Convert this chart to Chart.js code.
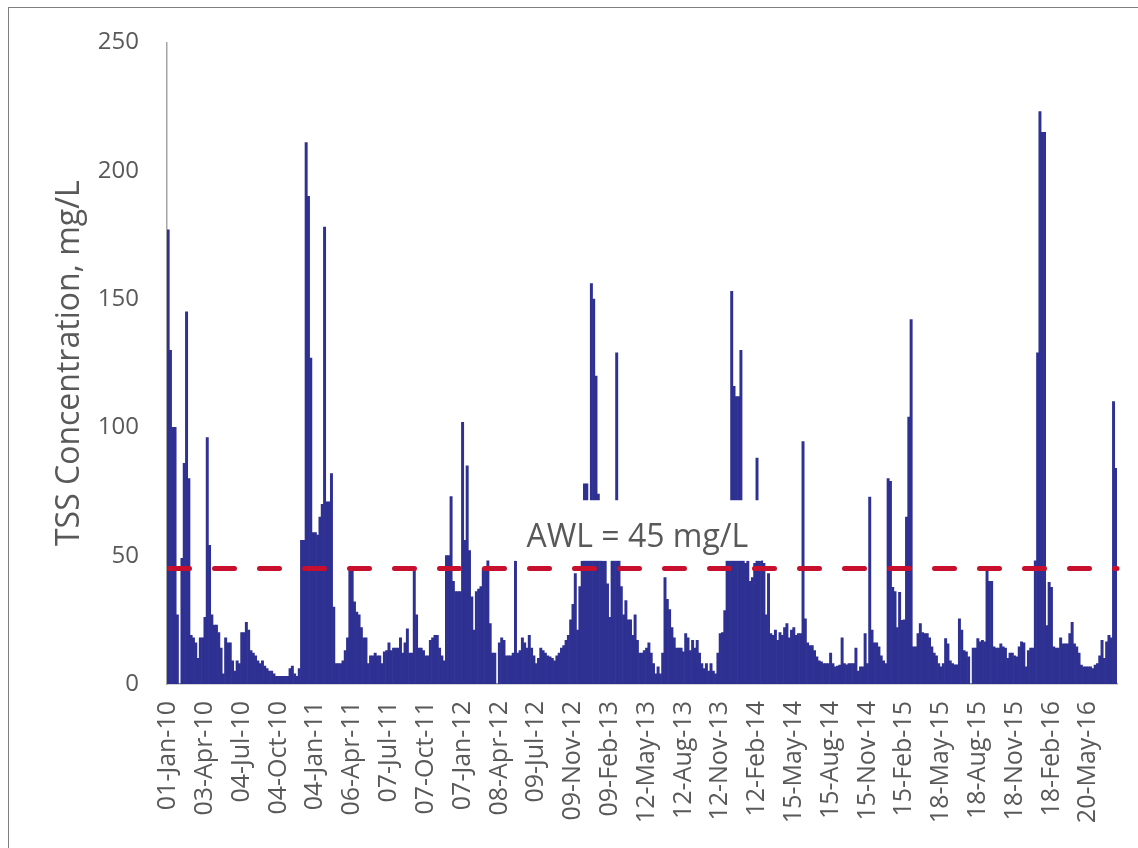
<!DOCTYPE html>
<html><head><meta charset="utf-8">
<script src="https://cdn.jsdelivr.net/npm/chart.js@4.4.1/dist/chart.umd.min.js"></script>
<style>
html,body{margin:0;padding:0;background:#fff;}
#wrap{position:relative;width:1138px;height:848px;overflow:hidden;}
#frame{position:absolute;left:8px;top:7px;width:1200px;height:900px;border-left:1.5px solid #7f7f7f;border-top:1.5px solid #7f7f7f;}
canvas{position:absolute;left:0;top:0;}
</style></head><body>
<div id="wrap"><div id="frame"></div><canvas id="c" width="1138" height="848"></canvas></div>
<script>
// Tick labels shown on the x axis (one every 16 bars)
const tickLabels = ['01-Jan-10','03-Apr-10','04-Jul-10','04-Oct-10','04-Jan-11','06-Apr-11','07-Jul-11','07-Oct-11','07-Jan-12','08-Apr-12','09-Jul-12','09-Nov-12','09-Feb-13','12-May-13','12-Aug-13','12-Nov-13','12-Feb-14','15-May-14','15-Aug-14','15-Nov-14','15-Feb-15','18-May-15','18-Aug-15','18-Nov-15','18-Feb-16','20-May-16'];
const barsPerTick = 16;

// TSS concentration (mg/L)
const tss = [
177,130,100,100,27,0,49,86,145,80,
19,18,16,10,18,18,26,96,54,27,
23,23,20,14,4,18,16,16,9,5,
9,8,20,20,24,21,13,12,11,9,
8,9,7,6,5,5,4,3,3,3,
3,3,3,6,7,4,3,6,56,56,
211,190,127,59,59,58,65,70,178,71,
71,82,30,8,8,8,9,13,18,45,
45,32,28,27,22,18,18,8,11,11,
12,11,11,8,12.5,13,16,13,14,14,
14,18,12,16,21.5,12,12,45,27,14,
14,13,11,11,17,18,19,19,14,11,
9,50,50,73,40,36,36,36,102,56,
85,52,34,21,36,37,38,45,45,48,
23.5,12,12,0,16,18,17,11,11,11,
12,48,12,13,18,16,14,19,14,11,
8,10,14,13,12,11,10.6,10,9,11,
12,14,15,17,19,25,31,43,21,38,
48,78,78,60,156,150,120,74,60,48,
48,39,26,55,55,129,50,38,27,32.5,
25,25,19,27,17,12,12,13,14,16,
12,8,4,6.7,4,12,41.5,33,29,22,
18,14,14,14,12.5,19.6,18,13,17,14,
17,12,8,6,8,5,8,5,4,12,
19.6,20,28.6,55,60,153,116,112,112,130,
60,47,48,40,41.5,47,88,48,48,47,
27,43,19.6,19,21,17,20,19,22,23.5,
18,21,22,19,19.6,19.6,94.5,25.4,16,15,
15,13,10.6,9,8.6,8,8,8,12,8,
6.7,7,7.4,18,8,7.5,8,8,8,14,
5,6.7,6.7,19.6,8,72.8,21,16,16,14.5,
11,9,8,80,79,37.7,36,22,35.7,24.8,
25,65,104,142,14.5,14.5,19.6,23.5,20,19.6,
19.6,18,14.5,12,11,8,6.7,8,17.7,15.7,
9,8,7.5,7.5,25.4,21,13,12.5,10.6,0,
14,14,17.7,16.4,17,16.4,44,40,40,14.5,
14,14,15.7,14.5,14,10,12,12,11,10.6,
14.5,16.4,16,6.7,13,14,14,48,129,223,
215,215,22.8,39.6,37.7,14.5,14,14,18,15.7,
15.7,15.7,19.6,24,15.7,14.5,12,7.4,6.7,6.7,
6.7,6.7,6,7.4,8,11,17,10,16.4,19,
18,110,84
];

// Categories: tick label at the start of each 16-bar block, blank otherwise
const categories = tss.map((_, i) => (i % barsPerTick === 0 && tickLabels[i / barsPerTick]) ? tickLabels[i / barsPerTick] : '');

const AWL_VALUE = 45;
const AWL_TEXT = 'AWL = 45 mg/L';

const GREY = '#595959';
Chart.defaults.font.family = '"Open Sans", "Noto Sans", sans-serif';

const awlPlugin = {
  id: 'awl',
  afterDatasetsDraw(chart) {
    const {ctx, chartArea, scales: {x, y}} = chart;
    const py = y.getPixelForValue(AWL_VALUE);
    ctx.save();
    ctx.strokeStyle = '#C8102E';
    ctx.lineWidth = 5;
    ctx.lineCap = 'round';
    ctx.setLineDash([20, 25]);
    ctx.beginPath();
    ctx.moveTo(chartArea.left + 2.5, py);
    ctx.lineTo(chartArea.right, py);
    ctx.stroke();
    ctx.setLineDash([]);
    // label with white box
    ctx.font = '32px "Open Sans"';
    const w = ctx.measureText(AWL_TEXT).width;
    const cx = x.getPixelForValue(204);
    const top = y.getPixelForValue(71.6);
    const bot = y.getPixelForValue(48);
    ctx.fillStyle = '#ffffff';
    ctx.fillRect(cx - w / 2 - 13, top, w + 26, bot - top);
    ctx.fillStyle = GREY;
    ctx.textAlign = 'center';
    ctx.textBaseline = 'alphabetic';
    ctx.fillText(AWL_TEXT, cx, y.getPixelForValue(53.4));
    ctx.restore();
  }
};

new Chart(document.getElementById('c'), {
  type: 'bar',
  data: {
    labels: categories,
    datasets: [{
      label: 'TSS',
      data: tss,
      backgroundColor: '#2E3192',
      borderWidth: 0,
      barPercentage: 1,
      categoryPercentage: 1
    }]
  },
  options: {
    responsive: false,
    animation: false,
    layout: {padding: {top: 38, right: 21, bottom: 0, left: 0}},
    plugins: {legend: {display: false}, tooltip: {enabled: false}},
    scales: {
      x: {
        type: 'category',
        offset: true,
        grid: {display: false, drawTicks: false},
        border: {display: true, color: '#A6A6A6', width: 1.5},
        ticks: {autoSkip: false, maxRotation: 90, minRotation: 90, padding: 17, color: GREY, font: {size: 25}},
        afterFit(s) { s.height = 164; s.paddingLeft = 0; s.paddingRight = 0; }
      },
      y: {
        min: 0, max: 250,
        grid: {display: false, drawTicks: false},
        border: {display: true, color: '#A6A6A6', width: 1.5},
        ticks: {stepSize: 50, padding: 28, color: GREY, font: {size: 24}},
        title: {display: true, text: 'TSS Concentration, mg/L', color: GREY, font: {size: 32}, padding: {top: 51, bottom: 0}},
        afterFit(s) { s.width = 167; }
      }
    }
  },
  plugins: [awlPlugin]
});
</script>
</body></html>
